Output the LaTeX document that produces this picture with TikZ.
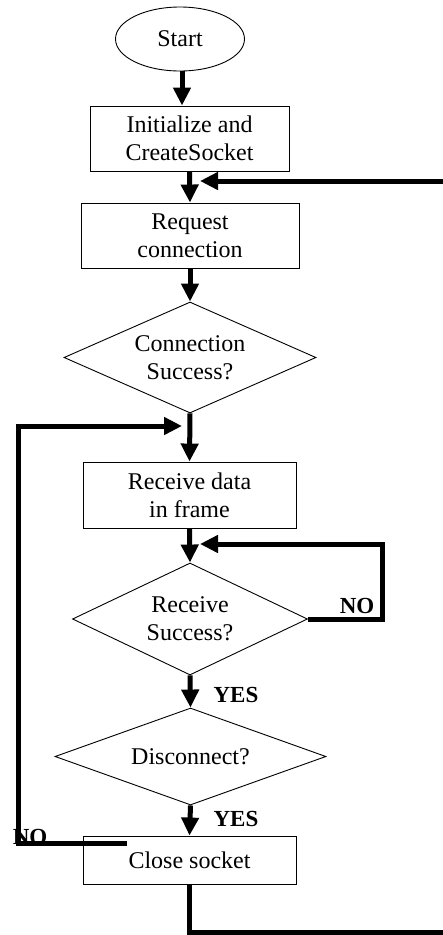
\documentclass[tikz,border=0pt]{standalone}
\usepackage{fontspec}
\setmainfont{Liberation Serif}
\usetikzlibrary{shapes.geometric,arrows.meta}

\begin{document}
\begin{tikzpicture}[x=1pt,y=-1pt,
  every node/.style={font=\fontsize{24}{28}\selectfont, align=center},
  terminal/.style={draw, line width=0.9pt, ellipse, inner sep=0pt,
                   minimum width=129pt, minimum height=64pt},
  procbox/.style={draw, line width=0.9pt, rectangle, inner sep=0pt},
  decision/.style={draw, line width=0.9pt, diamond, inner sep=0pt},
  flow/.style={line width=5pt, -{Triangle[width=17pt,length=18pt]}},
  plainflow/.style={line width=5pt},
  answer/.style={font=\fontsize{23}{28}\selectfont\bfseries}
]
\useasboundingbox (0,0) rectangle (443,935);

% blocks
\node[terminal] (start) at (180,39) {Start};
\node[procbox, minimum width=199pt, minimum height=65pt] (init) at (189.5,138.5)
  {Initialize and\\CreateSocket};
\node[procbox, minimum width=218pt, minimum height=65pt] (req) at (190,235.5)
  {Request\\connection};
\node[decision, aspect=2.27, minimum width=252pt, minimum height=111pt] (conn) at (190,357.5)
  {Connection\\Success?};
\node[procbox, minimum width=213pt, minimum height=66pt] (recv) at (189.5,495)
  {Receive data\\in frame};
\node[decision, aspect=2.1, minimum width=235pt, minimum height=112pt] (rsucc) at (190,619)
  {Receive\\Success?};
\node[decision, aspect=2.8, minimum width=271pt, minimum height=97pt] (disc) at (190.5,756.5)
  {Disconnect?};
\node[procbox, minimum width=213pt, minimum height=48pt] (close) at (189.5,860)
  {Close socket};

% junction points of the loops
\coordinate (rtop) at (443,181);
\coordinate (j1) at (200,181);
\coordinate (noStart) at (127,843);
\coordinate (lx) at (18,426);
\coordinate (j2) at (182,426);
\coordinate (rx) at (382,544);
\coordinate (j3) at (200,544);
\coordinate (bot) at (443,932);

% main flow
\draw[flow] ([xshift=2pt]start.south) -- ([xshift=2pt]start.south |- init.north);
\draw[flow] (init.south) -- (req.north);
\draw[flow] (req.south) -- (conn.north);
\draw[flow] (conn.south) -- (recv.north);
\draw[flow] (recv.south) -- (rsucc.north);
\draw[flow] (rsucc.south) -- (disc.north);
\draw[flow] (disc.south) -- (close.north);

% loops
\draw[flow] (rtop) -- (j1);
\draw[flow] (rsucc.east) -| (rx) -- (j3);
\draw[flow] (noStart) -| (lx) -- (j2);
\draw[plainflow] (close.south) |- (bot);

% labels
\node[answer] (noR) at (357,606) {NO};
\node[answer] (yes1) at (236,695) {YES};
\node[answer] (yes2) at (236,819) {YES};
\node[answer] (noL) at (30,837) {NO};
\end{tikzpicture}
\end{document}
